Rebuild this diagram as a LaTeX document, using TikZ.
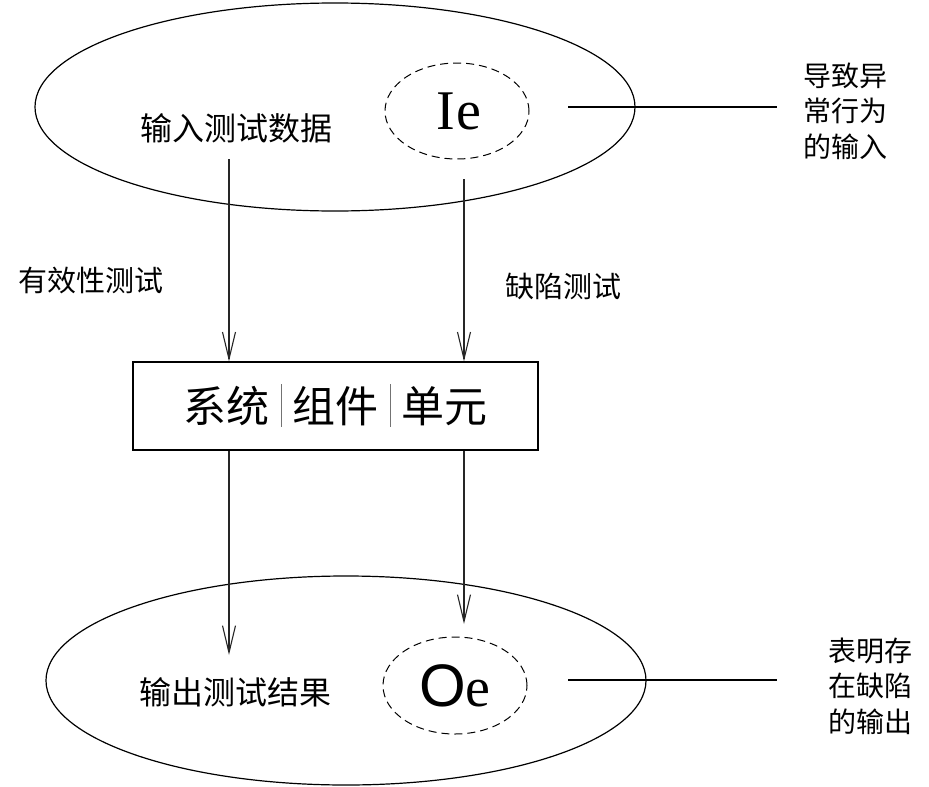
\documentclass[tikz,border=0pt]{standalone}
\usepackage{fontspec}
\setmainfont{Liberation Serif}
\setsansfont{Liberation Sans}
\newfontfamily\cjk{Noto Sans CJK SC}
\usetikzlibrary{shapes.geometric,arrows.meta}
\newcommand{\sepbar}{\hspace{11pt}\textcolor{black!55}{\rule[-4pt]{0.9pt}{43pt}}\hspace{11pt}}
\begin{document}
\begin{tikzpicture}[x=1pt,y=-1pt,
  bigset/.style={draw=black,line width=1.2pt,ellipse,inner sep=0pt},
  smallset/.style={draw=black,line width=1pt,dash pattern=on 8pt off 5pt,ellipse,inner sep=0pt,minimum width=144pt,minimum height=96pt},
  txt/.style={inner sep=0pt,font=\cjk},
  note/.style={inner sep=0pt,font=\cjk\fontsize{28}{35.5}\selectfont,align=center},
  flow/.style={draw=black!85,line width=1.2pt,-{Straight Barb[length=27pt,width=13pt,line width=1.1pt]}},
  lead/.style={draw=black,line width=1.6pt},
  boxstyle/.style={draw=black,line width=1.2pt,rectangle,minimum width=405pt,minimum height=88pt,inner sep=0pt}
]
\path[fill=white] (0,0) rectangle (929,787);
\useasboundingbox (0,0) rectangle (929,787);

% top set
\node[bigset,minimum width=600pt,minimum height=208pt] (inset) at (335,107) {};
\node[txt,font=\cjk\fontsize{32}{38}\selectfont] (intext) at (236,128) {输入测试数据};
\node[smallset] (ie) at (457,111) {};
\node[inner sep=0pt,anchor=base,font=\fontsize{56}{60}\selectfont] (ietext) at (459,129) {I\kern2pt e};
\node[note] (note1) at (845,111) {导致异\\常行为\\的输入};

% box
\node[boxstyle] (sys) at (335.5,406) {};
\node[txt,font=\cjk\fontsize{43}{48}\selectfont] (systext) at (335.5,405) {系统\sepbar 组件\sepbar 单元};

% bottom set
\node[bigset,minimum width=600pt,minimum height=209pt] (outset) at (346,680.5) {};
\node[txt,font=\cjk\fontsize{32}{38}\selectfont] (outtext) at (235,692) {输出测试结果};
\node[smallset,minimum height=97pt] (oe) at (455,685.5) {};
\node[inner sep=0pt,anchor=base] (oetext) at (455,706) {{\sffamily\fontsize{60}{64}\selectfont O}{\fontsize{56}{60}\selectfont e}};
\node[note] (note2) at (870,686) {表明存\\在缺陷\\的输出};

% labels
\node[txt,font=\cjk\fontsize{29}{34}\selectfont] (lvalid) at (90.5,281) {有效性测试};
\node[txt,font=\cjk\fontsize{29}{34}\selectfont] (ldefect) at (563.5,286) {缺陷测试};

% connector start points
\coordinate (s1) at (229,159);
\coordinate (s2) at (464,179);
\coordinate (e1) at (229,655);
\coordinate (e2) at (464,624);

\draw[flow] (s1) -- (s1 |- sys.north);
\draw[flow] (s2) -- (s2 |- sys.north);
\draw[flow] (s1 |- sys.south) -- (e1);
\draw[flow] (s2 |- sys.south) -- (e2);

% leader lines
\coordinate (l1a) at (568,107);
\coordinate (l1b) at (777,107);
\coordinate (l2a) at (568,680);
\coordinate (l2b) at (777,680);
\draw[lead] (l1a) -- (l1b);
\draw[lead] (l2a) -- (l2b);
\end{tikzpicture}
\end{document}
